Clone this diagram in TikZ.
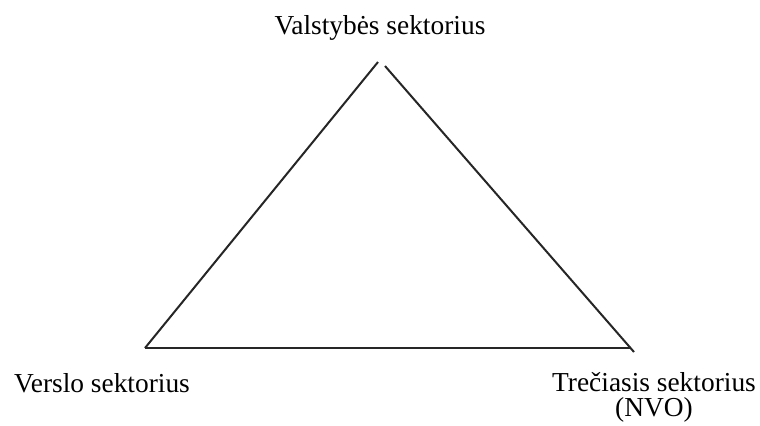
\documentclass[tikz,border=0pt]{standalone}
\usepackage{fontspec}
\setmainfont{Liberation Serif}
\usetikzlibrary{positioning}
\tikzset{
  sectorlabel/.style={font=\fontsize{13.7}{12.5}\selectfont, align=center, inner sep=0pt},
  sectorline/.style={line width=1pt, black!85}
}

\begin{document}
\begin{tikzpicture}[x=0.5pt, y=-0.5pt]
  \useasboundingbox (0,0) rectangle (760,425);
  \coordinate (topL) at (378,62);
  \coordinate (topR) at (385,66);
  \coordinate (left) at (145,348);
  \coordinate (right) at (634,352);
  \coordinate (rightB) at (631,348);
  \node[sectorlabel] (state) at (380,28) {Valstybės sektorius};
  \node[sectorlabel] (business) at (102,383) {Verslo sektorius};
  \node[sectorlabel] (third) at (654,397.5) {Trečiasis sektorius\\(NVO)};
  \draw[sectorline] (left) -- (topL);
  \draw[sectorline] (topR) -- (right);
  \draw[sectorline] (left) -- (rightB);
\end{tikzpicture}
\end{document}
